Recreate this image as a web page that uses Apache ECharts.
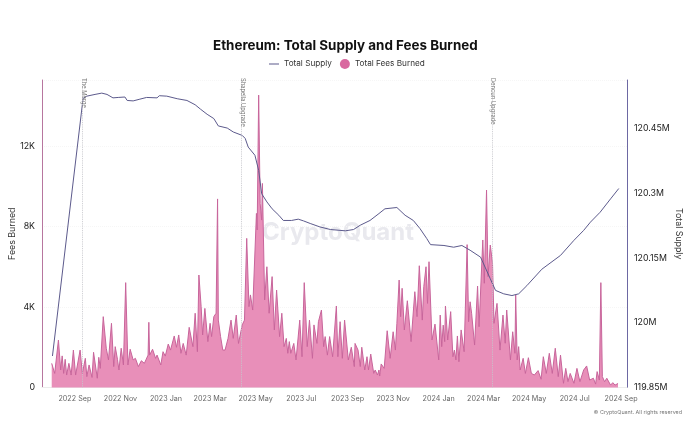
<!DOCTYPE html>
<html><head><meta charset="utf-8">
<style>html,body{margin:0;padding:0;background:#fff}#c{width:700px;height:433px}</style>
<script src="https://cdn.jsdelivr.net/npm/echarts@6/dist/echarts.min.js"></script>
</head><body><div id="c"></div>
<script>
const startDate = '2022-08-01';
const tickLabels = ['2022 Sep','2022 Nov','2023 Jan','2023 Mar','2023 May','2023 Jul','2023 Sep','2023 Nov','2024 Jan','2024 Mar','2024 May','2024 Jul','2024 Sep'];
const tickDates = ['2022-09-01','2022-11-01','2023-01-01','2023-03-01','2023-05-01','2023-07-01','2023-09-01','2023-11-01','2024-01-01','2024-03-01','2024-05-01','2024-07-01','2024-09-01'];
const eventNames = ['The Merge','Shapella Upgrade','Dencun Upgrade'];
const eventDates = ['2022-09-11','2023-04-12','2024-03-12'];
// days since startDate, and fees burned in thousands
const feeDays = [0,2,4,9,12,14,16,18,20,23,26,29,32,38,41,45,47,50,54,56,61,63,65,69,73,76,80,83,85,88,90,93,96,99,102,105,109,
112,116,120,124,129,130,131,135,139,141,146,149,152,156,159,164,167,170,173,176,180,184,189,192,195,197,200,202,205,209,212,214,217,220,222,223,226,229,
232,236,240,243,247,250,255,258,261,264,266,269,271,274,275,277,279,281,282,285,288,291,295,298,301,305,308,311,314,316,318,320,324,327,332,335,338,342,345,349,351,
355,357,361,364,366,369,372,376,381,383,386,389,392,397,401,405,406,410,413,415,419,422,424,427,431,433,436,438,439,441,445,449,453,457,460,462,465,467,469,472,
476,481,486,489,492,496,498,501,503,505,509,513,518,520,522,524,526,527,530,534,537,539,541,543,545,548,549,552,556,558,
560,562,566,570,572,577,579,582,584,587,590,592,596,600,604,607,609,614,617,620,621,623,625,627,631,634,638,642,646,648,651,655,658,662,666,670,674,
678,681,685,688,691,694,699,703,707,712,716,720,725,728,730,733,735,737,740,743,748,751,754,758];
const feeValues = [1.20,1.20,0.70,2.36,0.87,1.57,0.70,1.40,0.62,1.20,0.62,1.86,0.62,1.86,0.70,1.45,0.54,1.12,0.50,1.75,0.46,1.50,0.95,3.52,1.95,1.37,3.19,1.04,2.03,1.40,0.87,1.95,1.12,5.21,1.12,1.90,1.37,
1.45,1.04,1.33,1.20,1.61,3.24,1.61,1.90,1.45,1.61,1.12,1.78,1.56,2.16,1.86,2.56,2.00,2.61,1.70,2.19,1.61,2.99,2.03,3.69,1.78,5.59,4.02,2.61,3.93,2.28,3.19,2.53,3.52,3.69,9.37,3.35,2.53,1.86,
1.86,2.44,3.35,2.44,3.60,2.19,3.11,3.35,7.41,4.02,4.60,3.85,3.77,8.65,7.83,14.53,9.15,8.32,10.14,4.35,6.00,3.69,5.51,2.86,4.84,2.53,3.69,2.03,2.44,1.70,2.28,1.70,2.19,1.37,3.35,1.53,5.21,2.03,3.35,1.45,3.11,
2.19,3.27,3.85,2.03,2.53,1.61,2.53,1.53,4.05,1.53,3.27,1.45,3.35,1.37,2.00,1.04,2.19,1.86,1.04,2.00,0.87,1.53,0.87,1.66,0.70,0.87,0.62,0.87,0.57,1.17,0.95,2.82,1.45,2.77,1.86,3.19,5.34,3.52,4.93,2.86,
4.31,2.28,4.76,3.52,6.05,3.35,5.01,6.00,4.18,6.25,2.36,3.15,1.37,3.60,2.03,3.10,2.28,4.05,2.36,3.77,1.53,1.86,1.37,2.56,1.28,2.86,2.89,1.78,7.10,3.27,
4.26,3.69,2.11,5.04,3.02,7.33,5.18,9.81,5.51,7.08,6.17,3.19,4.18,1.86,3.60,2.20,3.85,1.37,2.77,1.70,4.60,1.37,2.03,0.87,1.45,0.70,1.48,0.70,0.62,0.54,0.84,0.41,1.53,0.70,1.70,0.70,1.95,
0.54,1.61,0.21,0.95,0.29,0.70,0.21,0.95,0.29,0.87,1.07,0.37,0.46,0.17,0.79,0.37,5.21,0.54,0.29,0.46,0.12,0.24,0.12,0.20];
// days since startDate, and total supply in millions
const supplyDays = [1,42,47,58,67,74,82,89,98,101,109,118,127,141,144,154,168,181,192,199,208,217,223,235,243,255,259,263,272,277,281,288,295,304,310,321,330,337,346,359,373,393,404,413,426,438,446,462,464,473,484,493,502,507,525,538,549,560,574,580,587,594,605,616,625,636,656,681,699,712,721,734,748,759];
const supplyValues = [119.923,120.520,120.525,120.529,120.532,120.529,120.521,120.522,120.523,120.515,120.514,120.518,120.522,120.521,120.526,120.525,120.519,120.515,120.505,120.495,120.483,120.473,120.456,120.451,120.442,120.434,120.427,120.407,120.388,120.353,120.299,120.280,120.264,120.249,120.237,120.237,120.240,120.236,120.230,120.222,120.216,120.213,120.216,120.226,120.237,120.253,120.264,120.267,120.270,120.249,120.237,120.218,120.195,120.181,120.179,120.175,120.179,120.168,120.152,120.129,120.102,120.075,120.067,120.063,120.067,120.086,120.124,120.156,120.191,120.214,120.233,120.256,120.287,120.311];

const DAY = 86400000, t0 = Date.parse(startDate);
const pairs = (d, v) => d.map((x, i) => [t0 + x * DAY, v[i]]);
const tickMs = tickDates.map(d => Date.parse(d));
const font = 'Inter, "Liberation Sans", sans-serif';
const chart = echarts.init(document.getElementById('c'), null, {renderer: 'canvas'});
chart.setOption({
  animation: false,
  backgroundColor: '#fff',
  textStyle: {fontFamily: font},
  title: {text: 'Ethereum: Total Supply and Fees Burned', left: 208, top: 34,
    textStyle: {fontFamily: font, fontSize: 13.4, fontWeight: 700, color: '#111'}},
  legend: {top: 54, left: 264, itemWidth: 10, itemHeight: 10, itemGap: 8,
    textStyle: {fontFamily: font, fontSize: 8.2, color: '#333'},
    data: [
      {name: 'Total Supply', icon: 'path://M0,0L0,0ZM100,100L100,100ZM0,46H100V54H0Z', itemStyle: {color: '#5c5a8c'}},
      {name: 'Total Fees Burned', icon: 'circle', itemStyle: {color: '#d9689f'}}
    ]},
  grid: {left: 42, right: 73, top: 80, bottom: 45.5, outerBoundsMode: 'none'},
  xAxis: {type: 'value', min: Date.parse('2022-07-19'), max: Date.parse('2024-09-09'),
    splitLine: {show: false},
    axisLine: {show: true, onZero: false, lineStyle: {color: '#ececec', width: 1}},
    axisTick: {show: false},
    axisLabel: {customValues: tickMs, hideOverlap: false,
      fontSize: 7.2, color: '#666', margin: 8,
      formatter: v => tickLabels[tickMs.indexOf(v)] || ''}},
  yAxis: [
    {type: 'value', min: 0, max: 15.28, interval: 4, name: 'Fees Burned', nameLocation: 'middle', nameGap: 25.5, nameMoveOverlap: false,
      nameTextStyle: {fontSize: 8.8, color: '#333'},
      axisLine: {show: true, lineStyle: {color: '#b7769f', width: 1}},
      axisTick: {show: false},
      splitLine: {lineStyle: {color: '#f6f6f6', type: 'dotted'}},
      axisLabel: {showMaxLabel: false, fontSize: 8.8, color: '#222', margin: 7, formatter: v => v === 0 ? '0' : v + 'K'}},
    {type: 'value', min: 119.85, max: 120.5624, interval: 0.15, name: 'Total Supply', nameLocation: 'middle', nameGap: 47.5, nameMoveOverlap: false,
      nameRotate: -90,
      nameTextStyle: {fontSize: 8.8, color: '#333'},
      axisLine: {show: true, lineStyle: {color: '#6d68a3', width: 1}},
      axisTick: {show: false},
      splitLine: {show: false},
      axisLabel: {showMaxLabel: false, fontSize: 8.8, color: '#222', margin: 7, formatter: v => +v.toFixed(2) + 'M'}}
  ],
  graphic: [
    {type: 'text', left: 262, top: 221, z: 0, silent: true,
      style: {text: 'CryptoQuant', font: '700 24px ' + font, fill: '#e9e9ee'}},
    {type: 'text', right: 18, top: 410, silent: true,
      style: {text: '© CryptoQuant. All rights reserved', font: '5.4px ' + font, fill: '#777'}}
  ],
  series: [
    {name: 'Total Fees Burned', type: 'line', yAxisIndex: 0, data: pairs(feeDays, feeValues), showSymbol: false, z: 2,
      lineStyle: {color: '#c8659b', width: 1}, itemStyle: {color: '#d9689f'},
      areaStyle: {color: '#e88fb9', opacity: 1},
      markLine: {silent: true, symbol: 'none', animation: false,
        lineStyle: {color: '#c6c6cc', type: 'dotted', width: 0.9},
        label: {position: 'insideEndBottom', rotate: -90, align: 'left', verticalAlign: 'bottom', formatter: '{b}', fontSize: 5.8, color: '#777', distance: 2},
        data: eventNames.map((n, i) => ({name: n, xAxis: Date.parse(eventDates[i])}))}},
    {name: 'Total Supply', type: 'line', yAxisIndex: 1, data: pairs(supplyDays, supplyValues), showSymbol: false, z: 3,
      lineStyle: {color: '#5c5a8c', width: 1}, itemStyle: {color: '#5c5a8c'}}
  ]
});
</script></body></html>
